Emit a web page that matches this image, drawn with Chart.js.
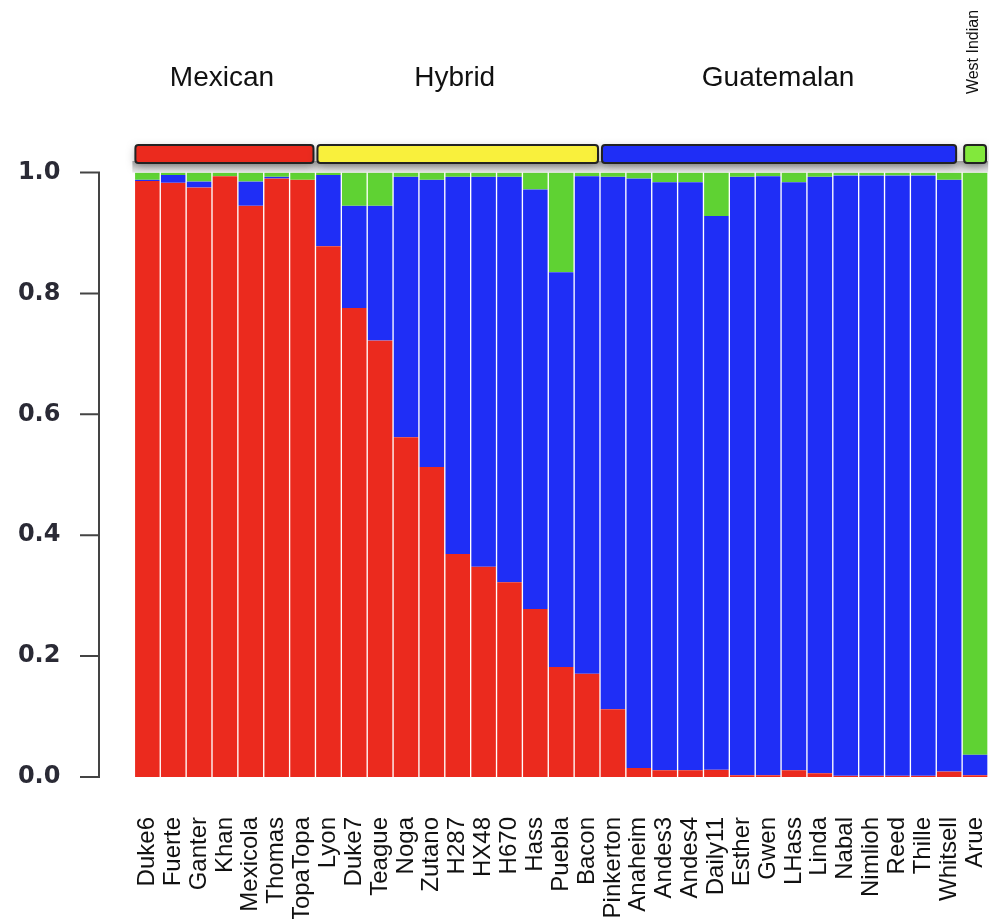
<!DOCTYPE html>
<html>
<head>
<meta charset="utf-8">
<script src="https://cdn.jsdelivr.net/npm/chart.js@4/dist/chart.umd.min.js"></script>
<style>
html,body{margin:0;padding:0;background:#fff;}
#wrap{width:989px;height:919px;position:relative;}
</style>
</head>
<body>
<div id="wrap"><canvas id="c" width="989" height="919"></canvas></div>
<script>
const cultivars = ['Duke6','Fuerte','Ganter','Khan','Mexicola','Thomas','TopaTopa',
  'Lyon','Duke7','Teague','Noga','Zutano','H287','HX48','H670','Hass','Puebla','Bacon',
  'Pinkerton','Anaheim','Andes3','Andes4','Daily11','Esther','Gwen','LHass','Linda','Nabal','Nimlioh','Reed','Thille','Whitsell',
  'Arue'];
const redShare = [0.986,0.983,0.975,0.994,0.945,0.990,0.988,
  0.878,0.776,0.722,0.562,0.513,0.369,0.348,0.322,0.278,0.182,0.171,
  0.112,0.015,0.011,0.011,0.012,0.003,0.003,0.011,0.006,0.002,0.002,0.002,0.002,0.009,
  0.003];
const blueShare = [0.002,0.013,0.010,0.000,0.040,0.003,0.000,
  0.118,0.169,0.223,0.431,0.475,0.624,0.645,0.671,0.694,0.653,0.823,
  0.881,0.975,0.973,0.973,0.916,0.990,0.991,0.973,0.987,0.993,0.993,0.993,0.993,0.979,
  0.034];
const greenShare = [0.012,0.004,0.015,0.006,0.015,0.007,0.012,
  0.004,0.055,0.055,0.007,0.012,0.007,0.007,0.007,0.028,0.165,0.006,
  0.007,0.010,0.016,0.016,0.072,0.007,0.006,0.016,0.007,0.005,0.005,0.005,0.005,0.012,
  0.963];
const groupNames = ['Mexican','Hybrid','Guatemalan','West Indian'];
const groupSizes = [7,11,14,1];
const yTickLabels = ['0.0','0.2','0.4','0.6','0.8','1.0'];

const RED = '#EB2A1E', BLUE = '#1F2EF6', GREEN = '#5FD233';
const groupColors = [RED, '#F9F03C', BLUE, '#82E83C'];

const sep = 'rgba(255,255,255,0.32)';
function ds(label, data, color){
  return {label, data, backgroundColor: color, borderColor: sep,
    borderWidth: {left:1, right:1, top:0, bottom:0}, borderSkipped: false,
    barPercentage: 1, categoryPercentage: 1};
}

const decor = {
  id: 'decor',
  afterDraw(chart){
    const ctx = chart.ctx;
    const xs = chart.scales.x, ys = chart.scales.y;
    const n = cultivars.length;
    const bw = xs.width / n;
    const yTop = ys.getPixelForValue(1), yBot = ys.getPixelForValue(0);
    ctx.save();
    // y axis (R style, offset)
    ctx.strokeStyle = '#444';
    ctx.lineWidth = 2;
    const ax = 99;
    ctx.beginPath();
    ctx.moveTo(ax, yTop); ctx.lineTo(ax, yBot);
    ys.ticks.forEach(t => {
      const p = ys.getPixelForValue(t.value);
      ctx.moveTo(80, p); ctx.lineTo(ax + 1, p);
    });
    ctx.stroke();

    // gray shadow band under header
    const g = ctx.createLinearGradient(0, 160, 0, yTop);
    g.addColorStop(0, 'rgba(140,140,140,0.8)');
    g.addColorStop(1, 'rgba(205,205,205,0.45)');
    ctx.fillStyle = g;
    ctx.fillRect(xs.left - 2, 161, xs.right - xs.left + 2, yTop - 161);

    // header bars
    let start = 0;
    const hTop = 145, hBot = 163;
    groupSizes.forEach((sz, gi) => {
      const x0 = xs.getPixelForValue(start) - bw / 2 + (gi === 0 ? 1 : 2);
      const x1 = xs.getPixelForValue(start + sz - 1) + bw / 2 - (gi === 2 ? 6 : 2);
      ctx.save();
      ctx.shadowColor = 'rgba(0,0,0,0.35)';
      ctx.shadowBlur = 8;
      ctx.shadowOffsetY = 3;
      ctx.fillStyle = groupColors[gi];
      ctx.beginPath();
      ctx.roundRect(x0, hTop, x1 - x0, hBot - hTop, 3);
      ctx.fill();
      ctx.restore();
      ctx.strokeStyle = '#222';
      ctx.lineWidth = 2;
      ctx.beginPath();
      ctx.roundRect(x0, hTop, x1 - x0, hBot - hTop, 3);
      ctx.stroke();
      // labels
      const cx = (xs.getPixelForValue(start) + xs.getPixelForValue(start + sz - 1)) / 2;
      ctx.fillStyle = '#111';
      if (gi < 3) {
        ctx.font = '28px "Liberation Sans", Arial, sans-serif';
        ctx.textAlign = 'center';
        ctx.textBaseline = 'alphabetic';
        ctx.fillText(groupNames[gi], cx - 3, 86);
      } else {
        ctx.save();
        ctx.translate(cx - 1, 52);
        ctx.rotate(-Math.PI / 2);
        ctx.font = '16px "Liberation Sans", Arial, sans-serif';
        ctx.textAlign = 'center';
        ctx.textBaseline = 'middle';
        ctx.fillText(groupNames[gi], 0, 0);
        ctx.restore();
      }
      start += sz;
    });
    ctx.restore();
  }
};

new Chart(document.getElementById('c'), {
  type: 'bar',
  data: {
    labels: cultivars,
    datasets: [ds('Red', redShare, RED), ds('Blue', blueShare, BLUE), ds('Green', greenShare, GREEN)]
  },
  options: {
    responsive: false,
    animation: false,
    layout: {padding: {top: 172.5, right: 1, left: 0, bottom: 0}},
    plugins: {legend: {display: false}, tooltip: {enabled: false}},
    scales: {
      x: {
        stacked: true,
        grid: {display: false},
        border: {display: false},
        ticks: {
          autoSkip: false, minRotation: 90, maxRotation: 90, padding: 32,
          color: '#111',
          font: {family: '"Liberation Sans", Arial, sans-serif', size: 24}
        },
        afterFit(s){ s.height = 919 - 777; s.paddingLeft = 0; s.paddingRight = 0; }
      },
      y: {
        stacked: true,
        min: 0, max: 1,
        grid: {display: false},
        border: {display: false},
        ticks: {
          stepSize: 0.2, padding: 66, color: '#2a2a35',
          font: {family: '"DejaVu Sans", sans-serif', size: 24, weight: 'bold'},
          callback: (v) => yTickLabels[Math.round(v / 0.2)]
        },
        afterFit(s){ s.width = 134.4; s.paddingTop = 0; s.paddingBottom = 0; }
      }
    }
  },
  plugins: [decor]
});
</script>
</body>
</html>
